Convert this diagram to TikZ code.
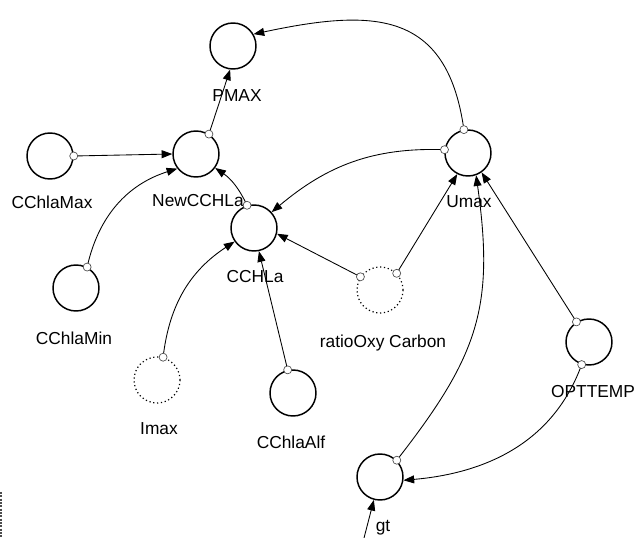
\documentclass[tikz,border=0pt]{standalone}
\usepackage{fontspec}
\setmainfont{Liberation Sans}
\usetikzlibrary{arrows.meta}

\begin{document}
\begin{tikzpicture}[x=0.75pt, y=0.75pt,
  stock/.style={circle, draw=black, line width=1.1pt, minimum size=34.5pt, inner sep=0pt},
  ghost/.style={stock, line width=0.9pt, dash pattern=on 0.9pt off 2pt},
  varname/.style={font=\fontsize{13pt}{13pt}\selectfont, anchor=base, inner sep=0pt},
  flow/.style={draw=black, line width=0.65pt, -{Triangle[length=8pt, width=6pt]}},
  tap/.style={draw=black!70, line width=0.5pt, fill=white},
]
\useasboundingbox (0,0) rectangle (635,-538);

\node[stock] (pmax)     at (233,-46)  {};
\node[stock] (newcchla) at (196,-154) {};
\node[stock] (cchlamax) at (50,-156)  {};
\node[stock] (cchla)    at (254,-228) {};
\node[stock] (umax)     at (468,-153) {};
\node[stock] (cchlamin) at (76,-288)  {};
\node[ghost] (imax)     at (157,-380) {};
\node[stock] (cchlaalf) at (293,-393) {};
\node[ghost] (ratio)    at (380,-290) {};
\node[stock] (opttemp)  at (589,-342) {};
\node[stock] (gt)       at (380,-477) {};

\node[varname] (pmax-l)     at (237,-102) {PMAX};
\node[varname] (cchlamax-l) at (52,-209)  {CChlaMax};
\node[varname] (newcchla-l) at (198,-207) {NewCCHLa};
\node[varname] (cchla-l)    at (255,-282) {CCHLa};
\node[varname] (umax-l)     at (469,-208) {Umax};
\node[varname] (cchlamin-l) at (74,-344)  {CChlaMin};
\node[varname] (ratio-l)    at (383,-347) {ratioOxy Carbon};
\node[varname] (imax-l)     at (159,-434) {Imax};
\node[varname] (cchlaalf-l) at (291,-448) {CChlaAlf};
\node[varname] (opttemp-l)  at (593,-397) {OPTTEMP};
\node[varname] (gt-l)       at (383,-531) {gt};

\coordinate (gt-in) at (364,-538);

% links between the variables
\draw[flow] (cchlamax.0)  -- (newcchla.180);
\draw[flow] (cchlamin.62) to[bend left=30] (newcchla.218);
\draw[flow] (newcchla.57) -- (pmax.263);
\draw[flow] (cchla.107)   to[bend right=15] (newcchla.324);
\draw[flow] (umax.100)    to[out=98, in=12, looseness=1.35] (pmax.30);
\draw[flow] (umax.172)    to[out=178, in=40] (cchla.42);
\draw[flow] (ratio.45)    -- (umax.243);
\draw[flow] (ratio.146)   -- (cchla.346);
\draw[flow] (imax.75)     to[bend left=25] (cchla.215);
\draw[flow] (cchlaalf.103) -- (cchla.282);
\draw[flow] (opttemp.122) -- (umax.305);
\draw[flow] (opttemp.252) to[out=250, in=5] (gt.352);
\draw[flow] (gt.45)       to[out=52, in=-82, looseness=1.15] (umax.290);
\draw[flow] (gt-in)       -- (gt.255);

% small rings where each link leaves its variable
\draw[tap] (cchlamax.0)   circle[radius=4];
\draw[tap] (cchlamin.62)  circle[radius=4];
\draw[tap] (newcchla.57)  circle[radius=4];
\draw[tap] (cchla.107)    circle[radius=4];
\draw[tap] (umax.100)     circle[radius=4];
\draw[tap] (umax.172)     circle[radius=4];
\draw[tap] (ratio.45)     circle[radius=4];
\draw[tap] (ratio.146)    circle[radius=4];
\draw[tap] (imax.75)      circle[radius=4];
\draw[tap] (cchlaalf.103) circle[radius=4];
\draw[tap] (opttemp.122)  circle[radius=4];
\draw[tap] (opttemp.252)  circle[radius=4];
\draw[tap] (gt.45)        circle[radius=4];

\draw[black!70, line width=1.2pt, dash pattern=on 1.5pt off 1pt] (1,-492) -- (1,-538);
\end{tikzpicture}
\end{document}
